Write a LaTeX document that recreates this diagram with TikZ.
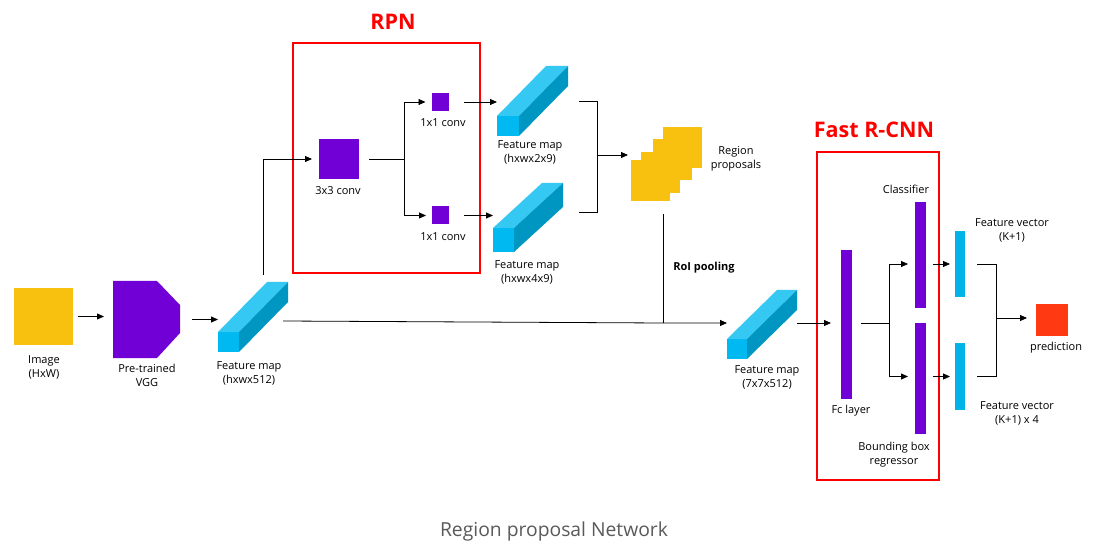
\documentclass[tikz,border=0pt]{standalone}
\usepackage{fontspec}
\setmainfont{Open Sans}
\usetikzlibrary{positioning, arrows.meta}

\definecolor{imgyellow}{HTML}{F8C00F}
\definecolor{convpurple}{HTML}{7100D6}
\definecolor{fmfrontc}{HTML}{00B9F1}
\definecolor{fmtopc}{HTML}{35C8F3}
\definecolor{fmsidec}{HTML}{0096C2}
\definecolor{vecblue}{HTML}{00B4EA}
\definecolor{boxred}{HTML}{FF0000}
\definecolor{predred}{HTML}{FF3A12}
\definecolor{capgrey}{HTML}{595959}

\tikzset{
  block/.style={draw=none, inner sep=0pt, outer sep=0pt},
  convsq/.style={block, fill=convpurple},
  lbl/.style={font=\fontsize{11}{14}\selectfont, align=center, inner sep=0pt},
  link/.style={line width=0.8pt},
  arr/.style={link, -{Triangle[length=7pt,width=6pt]}},
  redbox/.style={draw=boxred, line width=2.6pt, inner sep=0pt},
  boxtitle/.style={text=boxred, font=\bfseries\fontsize{21.5}{24}\selectfont, inner sep=0pt}
}

% feature map bar: name, x, y, width, height, depth x, depth y
\newcommand{\fmapbar}[7]{%
  \node[block, fill=fmfrontc, minimum width=#4pt, minimum height=#5pt] (#1) at (#2,#3) {};
  \fill[fmtopc] (#1.north west) -- ++(#6,-#7) -- ++(#4,0) -- (#1.north east) -- cycle;
  \fill[fmsidec] (#1.north east) -- ++(#6,-#7) -- ++(0,#5) -- (#1.south east) -- cycle;
}

\begin{document}
\begin{tikzpicture}[x=1pt, y=-1pt]
  \useasboundingbox (0,0) rectangle (1100,553);

  % backbone
  \node[block, fill=imgyellow, minimum width=59pt, minimum height=57pt] (img) at (43.5,316.5) {};
  \node[lbl] (imglbl) at (44,367) {Image\\(HxW)};

  \node[block, minimum width=67pt, minimum height=77pt] (vgg) at (146.5,319.5) {};
  \fill[convpurple] (vgg.north west) -- ([xshift=-23pt]vgg.north east) -- ([yshift=-24pt]vgg.north east)
    -- ([yshift=25pt]vgg.south east) -- ([xshift=-23pt]vgg.south east) -- (vgg.south west) -- cycle;
  \node[lbl] (vgglbl) at (147,375) {Pre-trained\\VGG};

  \fmapbar{fm1}{228.5}{342}{21}{20}{49}{50}
  \node[lbl] (fm1lbl) at (249,373) {Feature map\\(hxwx512)};

  % RPN
  \node[redbox, minimum width=187pt, minimum height=230pt] (rpnbox) at (386.5,158) {};
  \node[boxtitle] (rpntitle) at (393,22) {RPN};

  \node[convsq, minimum width=40pt, minimum height=40pt] (conv3) at (339,159) {};
  \node[lbl] (conv3lbl) at (338,191) {3x3 conv};
  \node[convsq, minimum width=17pt, minimum height=18pt] (conv1a) at (440,102) {};
  \node[lbl] (conv1albl) at (443,123) {1x1 conv};
  \node[convsq, minimum width=17pt, minimum height=18pt] (conv1b) at (440.5,215.5) {};
  \node[lbl] (conv1blbl) at (443,237) {1x1 conv};

  \fmapbar{fm2}{508}{126}{22}{20}{49}{50}
  \node[lbl] (fm2lbl) at (530,152) {Feature map\\(hxwx2x9)};
  \fmapbar{fm3}{503.5}{240}{21}{24}{49}{45}
  \node[lbl] (fm3lbl) at (527,272) {Feature map\\(hxwx4x9)};

  \foreach \i/\x/\y in {3/682.5/147.5, 2/672.5/160, 1/660/173, 0/650.5/180.5}
    \node[block, fill=imgyellow, minimum width=39pt, minimum height=41pt] (rp\i) at (\x,\y) {};
  \node[lbl] (rplbl) at (736,159) {Region\\proposals};

  % Fast R-CNN
  \fmapbar{fm4}{737}{349}{20}{20}{50}{49}
  \node[lbl] (fm4lbl) at (767,377) {Feature map\\(7x7x512)};
  \node[lbl, font=\bfseries\fontsize{11}{14}\selectfont] (roilbl) at (704,268) {RoI pooling};

  \node[redbox, minimum width=122pt, minimum height=328pt] (frcnnbox) at (878,316) {};
  \node[boxtitle] (frcnntitle) at (874,130) {Fast R-CNN};

  \node[convsq, minimum width=11pt, minimum height=149pt] (fc) at (846.5,324.5) {};
  \node[lbl] (fclbl) at (851,411) {Fc layer};
  \node[convsq, minimum width=11pt, minimum height=106pt] (cls) at (920.5,255) {};
  \node[lbl] (clslbl) at (906,189) {Classifier};
  \node[convsq, minimum width=11pt, minimum height=111pt] (bbox) at (920.5,378.5) {};
  \node[lbl] (bboxlbl) at (894,455) {Bounding box\\regressor};

  \node[block, fill=vecblue, minimum width=10pt, minimum height=66pt] (fv1) at (960,264) {};
  \node[lbl] (fv1lbl) at (1012,230) {Feature vector\\(K+1)};
  \node[block, fill=vecblue, minimum width=10pt, minimum height=67pt] (fv2) at (960,376.5) {};
  \node[lbl] (fv2lbl) at (1017,413) {Feature vector\\(K+1) x 4};

  \node[block, fill=predred, minimum width=32pt, minimum height=32pt] (pred) at (1052,320) {};
  \node[lbl] (predlbl) at (1056,348) {prediction};

  \node[font=\fontsize{19.3}{22}\selectfont, text=capgrey, inner sep=0pt] (caption) at (554,531) {Region proposal Network};

  % connectors
  \coordinate (fm1top) at (263,275);
  \coordinate (fm1out) at (283,321);
  \coordinate (roijoin) at (663,323);
  \coordinate (rpout) at (663,214);
  \coordinate (rpnsplit) at (404,159);
  \coordinate (rpnjoin) at (597,155);
  \coordinate (fm2out) at (579,101);
  \coordinate (fm3out) at (579,212);
  \coordinate (fm4out) at (797,323);
  \coordinate (fcsplit) at (889,323);
  \coordinate (fvjoin) at (996,318);

  \draw[arr, shorten <=5pt, shorten >=9pt] (img.east) -- (img.east -| vgg.west);
  \draw[arr, shorten <=12pt] (vgg.east) -- (vgg.east -| fm1.west);
  \draw[arr, shorten >=7pt] (fm1top) |- (conv3.west);
  \draw[arr] (fm1out) -- (roijoin) -- (roijoin -| fm4.west);
  \draw[link] (rpout) -- (roijoin);

  \draw[link, shorten <=10pt] (conv3.east) -- (rpnsplit);
  \draw[arr, shorten >=6pt] (rpnsplit) |- (conv1a.west);
  \draw[arr, shorten >=6pt] (rpnsplit) |- (conv1b.west);
  \draw[arr, shorten <=15pt] (conv1a.east) -- (conv1a.east -| fm2.west);
  \draw[arr, shorten <=15pt] (conv1b.east) -- (conv1b.east -| fm3.west);
  \draw[link] (fm2out) -| (fm3out -| rpnjoin) -- (fm3out);
  \draw[arr, shorten >=3pt] (rpnjoin) -- (rpnjoin -| rp0.west);

  \draw[arr, shorten >=10pt] (fm4out) -- (fm4out -| fc.west);
  \draw[link, shorten <=9pt] (fc.east |- fcsplit) -- (fcsplit);
  \draw[arr, shorten >=7pt] (fcsplit) |- (cls.west |- fv1.west);
  \draw[arr, shorten >=7pt] (fcsplit) |- (bbox.west |- fv2.west);
  \draw[arr, shorten <=7pt, shorten >=5pt] (fv1.west -| cls.east) -- (fv1.west);
  \draw[arr, shorten <=7pt, shorten >=5pt] (fv2.west -| bbox.east) -- (fv2.west);
  \draw[link] ([xshift=12pt]fv1.east) -| ([xshift=31pt]fv2.east) -- ([xshift=12pt]fv2.east);
  \draw[arr, shorten >=9pt] (fvjoin) -- (fvjoin -| pred.west);
\end{tikzpicture}
\end{document}
